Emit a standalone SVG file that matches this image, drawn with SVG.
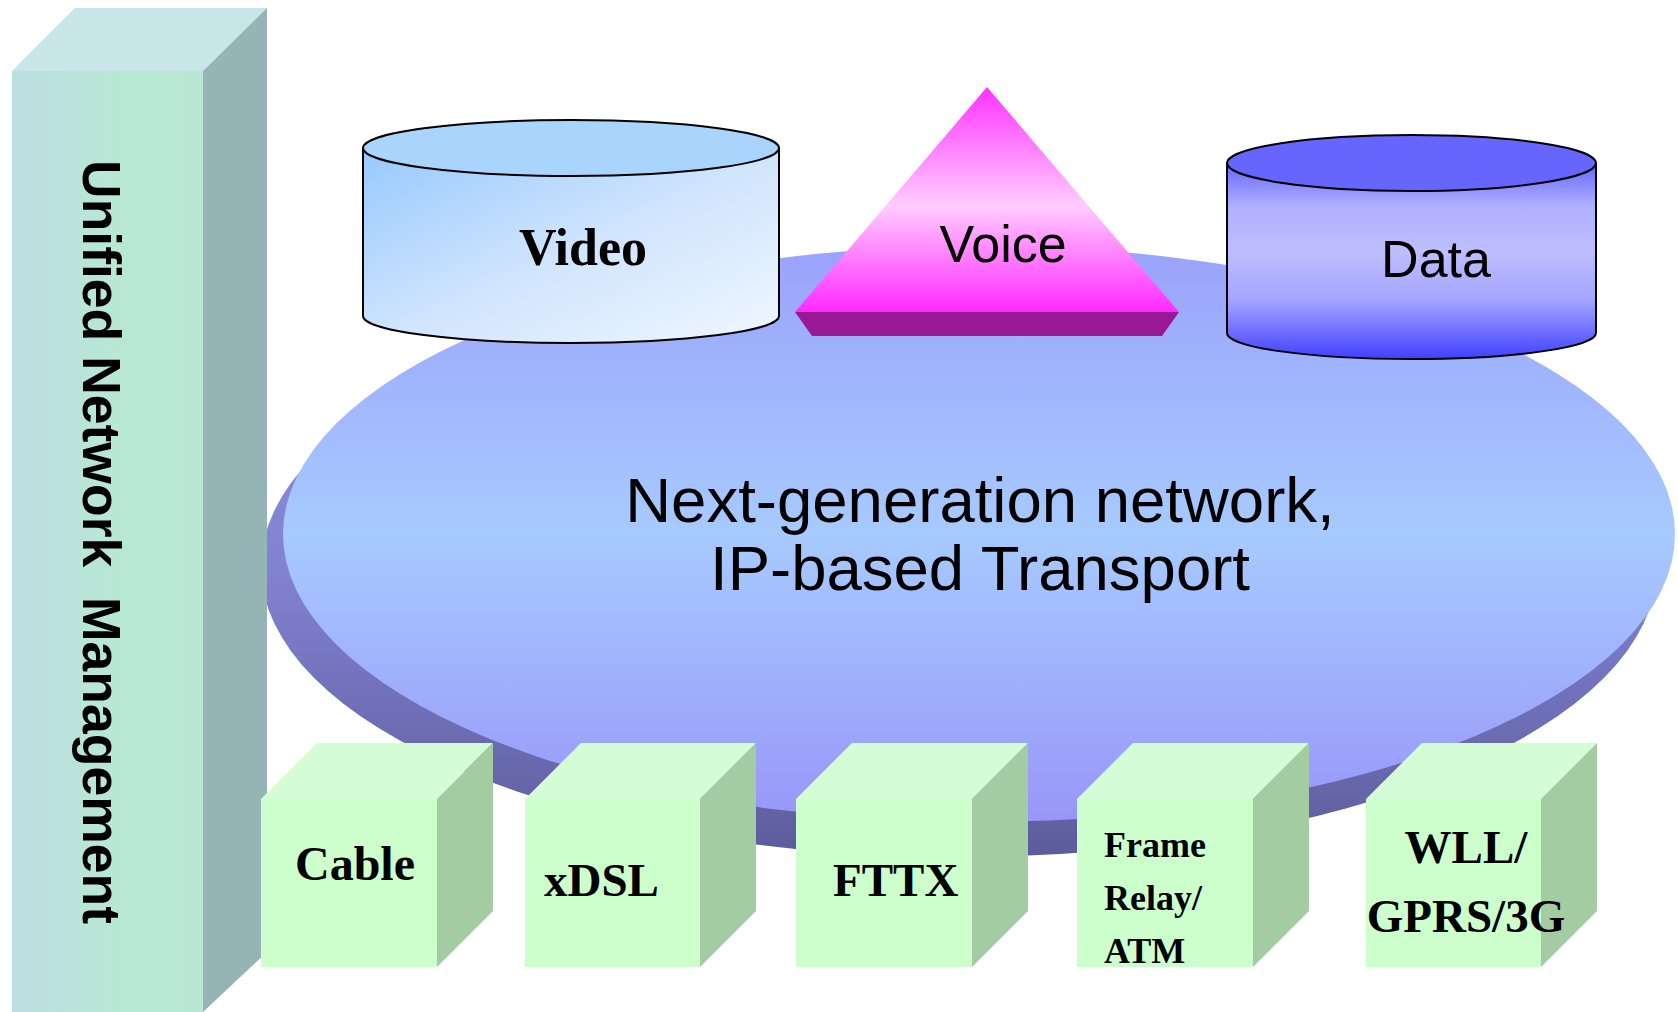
<svg xmlns="http://www.w3.org/2000/svg" width="1678" height="1012" viewBox="0 0 1678 1012">
  <defs>
    <linearGradient id="gMain" x1="0" y1="0" x2="0" y2="1">
      <stop offset="0" stop-color="#9AA2FB"/>
      <stop offset="0.5" stop-color="#A7CAFF"/>
      <stop offset="1" stop-color="#9896F8"/>
    </linearGradient>
    <linearGradient id="gShadow" x1="0" y1="0" x2="0" y2="1">
      <stop offset="0" stop-color="#8C90E2"/>
      <stop offset="0.5" stop-color="#8282D2"/>
      <stop offset="1" stop-color="#5C5C9C"/>
    </linearGradient>
    <linearGradient id="gPillar" x1="0" y1="0" x2="1" y2="0">
      <stop offset="0" stop-color="#BCDEE3"/>
      <stop offset="0.6" stop-color="#B8E8D3"/>
      <stop offset="1" stop-color="#B8E6D4"/>
    </linearGradient>
    <linearGradient id="gVideo" x1="0" y1="0" x2="1" y2="1">
      <stop offset="0" stop-color="#96C9FD"/>
      <stop offset="0.5" stop-color="#CFE4FD"/>
      <stop offset="1" stop-color="#F0F7FF"/>
    </linearGradient>
    <linearGradient id="gVoice" x1="0" y1="0" x2="0" y2="1">
      <stop offset="0" stop-color="#FF33FF"/>
      <stop offset="0.53" stop-color="#FFCCFF"/>
      <stop offset="1" stop-color="#FF2AFF"/>
    </linearGradient>
    <linearGradient id="gData" x1="0" y1="0" x2="0" y2="1">
      <stop offset="0" stop-color="#6565FF"/>
      <stop offset="0.22" stop-color="#B0B0FF"/>
      <stop offset="0.45" stop-color="#BEBEFF"/>
      <stop offset="0.7" stop-color="#A4A4FF"/>
      <stop offset="1" stop-color="#4040FF"/>
    </linearGradient>
  </defs>
  <style>
    .sans { font-family: "Liberation Sans", Arial, sans-serif; fill: #000; }
    .serifb { font-family: "Liberation Serif", "Times New Roman", serif; font-weight: bold; fill: #000; }
    .cyl { stroke: #000; stroke-width: 2; }
    .cfront { fill: #CCFFCC; }
    .ctop { fill: #D5FDD5; }
    .cside { fill: #A3CCA3; }
  </style>
  <rect width="1678" height="1012" fill="#FFFFFF"/>

  <g id="network">
    <ellipse cx="959" cy="567" rx="698" ry="290" fill="url(#gShadow)"/>
    <ellipse cx="979" cy="534" rx="696" ry="288" fill="url(#gMain)"/>
    <text class="sans" font-size="63.5" text-anchor="middle" x="980" y="522">Next-generation network,</text>
    <text class="sans" font-size="63.5" text-anchor="middle" x="980" y="590">IP-based Transport</text>
  </g>

  <g id="video">
    <path class="cyl" d="M363,148 V316 A208,27 0 0 0 779,316 V148 Z" fill="url(#gVideo)"/>
    <ellipse class="cyl" cx="571" cy="148" rx="208" ry="28" fill="#A9D5FC"/>
    <text class="serifb" font-size="52" text-anchor="middle" x="583" y="265">Video</text>
  </g>

  <g id="voice">
    <polygon points="987,87 1179,312 795,312" fill="url(#gVoice)"/>
    <polygon points="795,312 1179,312 1162,336 812,336" fill="#981896"/>
    <text class="sans" font-size="52" text-anchor="middle" x="1003" y="262">Voice</text>
  </g>

  <g id="data">
    <path class="cyl" d="M1227,163 V333 A184.5,26 0 0 0 1596,333 V163 Z" fill="url(#gData)"/>
    <ellipse class="cyl" cx="1411.5" cy="163" rx="184.5" ry="28" fill="#6666FF"/>
    <text class="sans" font-size="52" text-anchor="middle" x="1436" y="277">Data</text>
  </g>

  <g id="management">
    <rect x="12" y="71" width="191" height="941" fill="url(#gPillar)"/>
    <polygon points="12,71 75,8 267,8 203,71" fill="#C8E6E8"/>
    <polygon points="203,71 267,8 267,952 203,1012" fill="#96B3B6"/>
    <text class="sans" font-size="53.5" font-weight="bold" transform="translate(83,160) rotate(90)" xml:space="preserve">Unified Network  Management</text>
  </g>

  <g id="cable">
    <rect class="cfront" x="261" y="799" width="176" height="168"/>
    <polygon class="ctop" points="261,799 317,743 493,743 437,799"/>
    <polygon class="cside" points="437,799 493,743 493,911 437,967"/>
    <text class="serifb" font-size="48" text-anchor="middle" x="355" y="880">Cable</text>
  </g>

  <g id="xdsl">
    <rect class="cfront" x="525" y="799" width="175" height="168"/>
    <polygon class="ctop" points="525,799 581,743 756,743 700,799"/>
    <polygon class="cside" points="700,799 756,743 756,911 700,967"/>
    <text class="serifb" font-size="47" x="544" y="896">xDSL</text>
  </g>

  <g id="fttx">
    <rect class="cfront" x="796" y="799" width="176" height="168"/>
    <polygon class="ctop" points="796,799 852,743 1028,743 972,799"/>
    <polygon class="cside" points="972,799 1028,743 1028,911 972,967"/>
    <text class="serifb" font-size="47" x="833" y="896">FTTX</text>
  </g>

  <g id="framerelay">
    <rect class="cfront" x="1077" y="799" width="176" height="168"/>
    <polygon class="ctop" points="1077,799 1133,743 1309,743 1253,799"/>
    <polygon class="cside" points="1253,799 1309,743 1309,911 1253,967"/>
    <text class="serifb" font-size="36" x="1104" y="857">Frame</text>
    <text class="serifb" font-size="36" x="1104" y="910">Relay/</text>
    <text class="serifb" font-size="36" x="1104" y="963">ATM</text>
  </g>

  <g id="wireless">
    <rect class="cfront" x="1366" y="799" width="175" height="168"/>
    <polygon class="ctop" points="1366,799 1422,743 1597,743 1541,799"/>
    <polygon class="cside" points="1541,799 1597,743 1597,911 1541,967"/>
    <text class="serifb" font-size="47" text-anchor="middle" x="1466" y="863">WLL/</text>
    <text class="serifb" font-size="47" text-anchor="middle" x="1466" y="932">GPRS/3G</text>
  </g>

  <g id="connectors"/>
</svg>
